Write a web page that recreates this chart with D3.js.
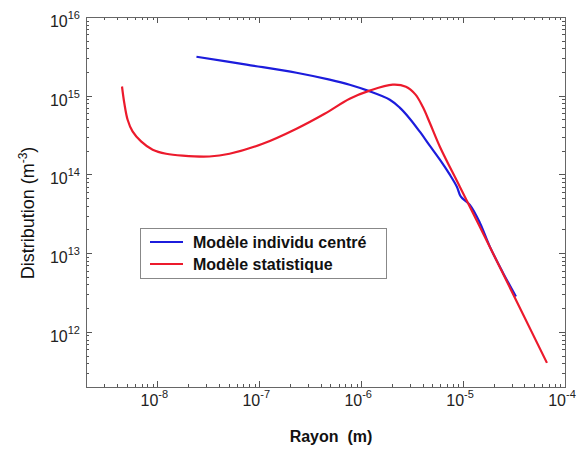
<!DOCTYPE html>
<html lang="fr">
<head>
<meta charset="UTF-8">
<title>Distribution</title>
<script src="https://d3js.org/d3.v7.min.js"></script>
<style>
  body { margin: 0; background: #fff; }
  svg { font-family: "Liberation Sans", Arial, Helvetica, sans-serif; }
  .tick-label { font-size: 16px; fill: #222; }
  .legend text { font-size: 16px; font-weight: bold; fill: #111; }
</style>
</head>
<body>
<svg width="579" height="450"></svg>
<script>
  // Modèle individu centré (rayon en m, distribution en m^-3)
  const indivR = [2.42e-8, 7.50e-8, 2.32e-7, 4.90e-7, 7.71e-7, 1.16e-6, 1.91e-6, 2.39e-6, 3.00e-6,
                  3.76e-6, 4.71e-6, 5.92e-6, 7.41e-6, 8.69e-6, 9.51e-6, 1.16e-5, 1.46e-5, 1.83e-5,
                  2.46e-5, 3.30e-5];
  const indivN = [3.13e15, 2.48e15, 1.96e15, 1.60e15, 1.38e15, 1.16e15, 8.9e14, 7.05e14, 5.11e14,
                  3.49e14, 2.32e14, 1.54e14, 9.93e13, 6.98e13, 5.21e13, 4.13e13, 2.44e13, 1.21e13,
                  5.65e12, 2.81e12];

  // Modèle statistique
  const statR = [4.50e-9, 4.74e-9, 5.11e-9, 5.71e-9, 6.92e-9, 9.00e-9, 1.22e-8, 1.77e-8, 3.24e-8,
                 5.11e-8, 1.08e-7, 2.32e-7, 4.38e-7, 7.71e-7, 1.21e-6, 2.04e-6, 2.75e-6, 3.40e-6,
                 4.02e-6, 4.71e-6, 5.92e-6, 9.29e-6, 1.46e-5, 6.65e-5];
  const statN = [1.31e15, 8.07e14, 4.95e14, 3.52e14, 2.63e14, 2.06e14, 1.83e14, 1.73e14, 1.69e14,
                 1.83e14, 2.45e14, 3.81e14, 5.90e14, 9.16e14, 1.16e15, 1.38e15, 1.30e15, 1.04e15,
                 7.24e14, 4.54e14, 2.25e14, 6.98e13, 2.17e13, 4.04e11];

  const xExps = [-8, -7, -6, -5, -4];
  const yExps = [12, 13, 14, 15, 16];
  const seriesNames = ["Modèle individu centré", "Modèle statistique"];
  const seriesColors = ["#1c1cdc", "#ec1a2c"];

  const margin = {top: 17, right: 14, bottom: 63, left: 86},
        width = 579 - margin.left - margin.right,
        height = 450 - margin.top - margin.bottom;

  const svg = d3.select("svg")
    .append("g")
    .attr("transform", "translate(" + margin.left + "," + margin.top + ")");

  const x = d3.scaleLog().domain([Math.pow(10, -8.7), 1e-4]).range([0, width]);
  const y = d3.scaleLog().domain([Math.pow(10, 11.3), 1e16]).range([height, 0]);

  // ticks mineurs / majeurs
  function tickVals(scale) {
    const d = scale.domain();
    const out = [];
    for (let e = Math.floor(Math.log10(d[0])); e <= Math.ceil(Math.log10(d[1])); e++) {
      for (let m = 1; m <= 9; m++) {
        const v = m * Math.pow(10, e);
        if (v >= d[0] * 0.999 && v <= d[1] * 1.001) out.push({v: v, major: m === 1});
      }
    }
    return out;
  }
  const xt = tickVals(x), yt = tickVals(y);
  const tickColor = "#555";

  const ticks = svg.append("g").attr("stroke", tickColor).attr("stroke-width", 1);
  // bas et haut
  ticks.selectAll(".xb").data(xt).enter().append("line")
    .attr("x1", d => Math.round(x(d.v)) + 0.5).attr("x2", d => Math.round(x(d.v)) + 0.5)
    .attr("y1", height).attr("y2", d => height - (d.major ? 6 : 3));
  ticks.selectAll(".xt").data(xt).enter().append("line")
    .attr("x1", d => Math.round(x(d.v)) + 0.5).attr("x2", d => Math.round(x(d.v)) + 0.5)
    .attr("y1", 0).attr("y2", d => d.major ? 6 : 3);
  // gauche et droite
  ticks.selectAll(".yl").data(yt).enter().append("line")
    .attr("y1", d => Math.round(y(d.v)) + 0.5).attr("y2", d => Math.round(y(d.v)) + 0.5)
    .attr("x1", 0).attr("x2", d => d.major ? 6 : 3);
  ticks.selectAll(".yr").data(yt).enter().append("line")
    .attr("y1", d => Math.round(y(d.v)) + 0.5).attr("y2", d => Math.round(y(d.v)) + 0.5)
    .attr("x1", width).attr("x2", d => width - (d.major ? 6 : 3));

  // cadre
  svg.append("rect")
    .attr("x", 0.5).attr("y", 0.5)
    .attr("width", width).attr("height", height)
    .attr("fill", "none").attr("stroke", "#666").attr("stroke-width", 1);

  // étiquettes x
  const xl = svg.selectAll(".xlab").data(xExps).enter().append("text")
    .attr("class", "tick-label")
    .attr("x", d => x(Math.pow(10, d)) - 3)
    .attr("y", height + 19)
    .attr("text-anchor", "middle");
  xl.append("tspan").text("10");
  xl.append("tspan").attr("dy", -8).style("font-size", "11px").text(d => d);

  // étiquettes y
  const yl = svg.selectAll(".ylab").data(yExps).enter().append("text")
    .attr("class", "tick-label")
    .attr("x", -6)
    .attr("y", d => y(Math.pow(10, d)) + 10)
    .attr("text-anchor", "end");
  yl.append("tspan").text("10");
  yl.append("tspan").attr("dy", -8).style("font-size", "11px").text(d => d);

  // courbes
  const line = d3.line()
    .x(d => x(d[0]))
    .y(d => y(d[1]))
    .curve(d3.curveCatmullRom.alpha(0.5));

  const series = [d3.zip(indivR, indivN), d3.zip(statR, statN)];
  svg.selectAll(".curve").data(series).enter().append("path")
    .attr("fill", "none")
    .attr("stroke", (d, i) => seriesColors[i])
    .attr("stroke-width", 2.2)
    .attr("stroke-linejoin", "round")
    .attr("d", line);

  // légende
  const legend = svg.append("g").attr("class", "legend")
    .attr("transform", "translate(" + (140 - margin.left) + "," + (228 - margin.top) + ")");
  legend.append("rect")
    .attr("x", 0.5).attr("y", 0.5).attr("width", 246).attr("height", 50)
    .attr("fill", "#fff").attr("stroke", "#888");
  const items = legend.selectAll(".item").data(seriesNames).enter().append("g")
    .attr("transform", (d, i) => "translate(0," + (14 + i * 22) + ")");
  items.append("line")
    .attr("x1", 10).attr("x2", 43).attr("y1", 0).attr("y2", 0)
    .attr("stroke", (d, i) => seriesColors[i]).attr("stroke-width", 2.2);
  items.append("text")
    .attr("x", 53).attr("y", 6)
    .text(d => d);

  // titres des axes
  svg.append("text")
    .attr("x", 331 - margin.left)
    .attr("y", 442 - margin.top)
    .attr("text-anchor", "middle")
    .style("font-size", "16px").style("font-weight", "bold").style("fill", "#111")
    .attr("xml:space", "preserve")
    .text("Rayon  (m)");

  const yTitle = svg.append("text")
    .attr("transform", "rotate(-90)")
    .attr("x", -(213 - margin.top))
    .attr("y", -margin.left + 34)
    .attr("text-anchor", "middle")
    .style("font-size", "18px").style("fill", "#111");
  yTitle.append("tspan").text("Distribution (m");
  yTitle.append("tspan").attr("dy", -7).style("font-size", "12px").text("-3");
  yTitle.append("tspan").attr("dy", 7).text(")");
</script>
</body>
</html>
